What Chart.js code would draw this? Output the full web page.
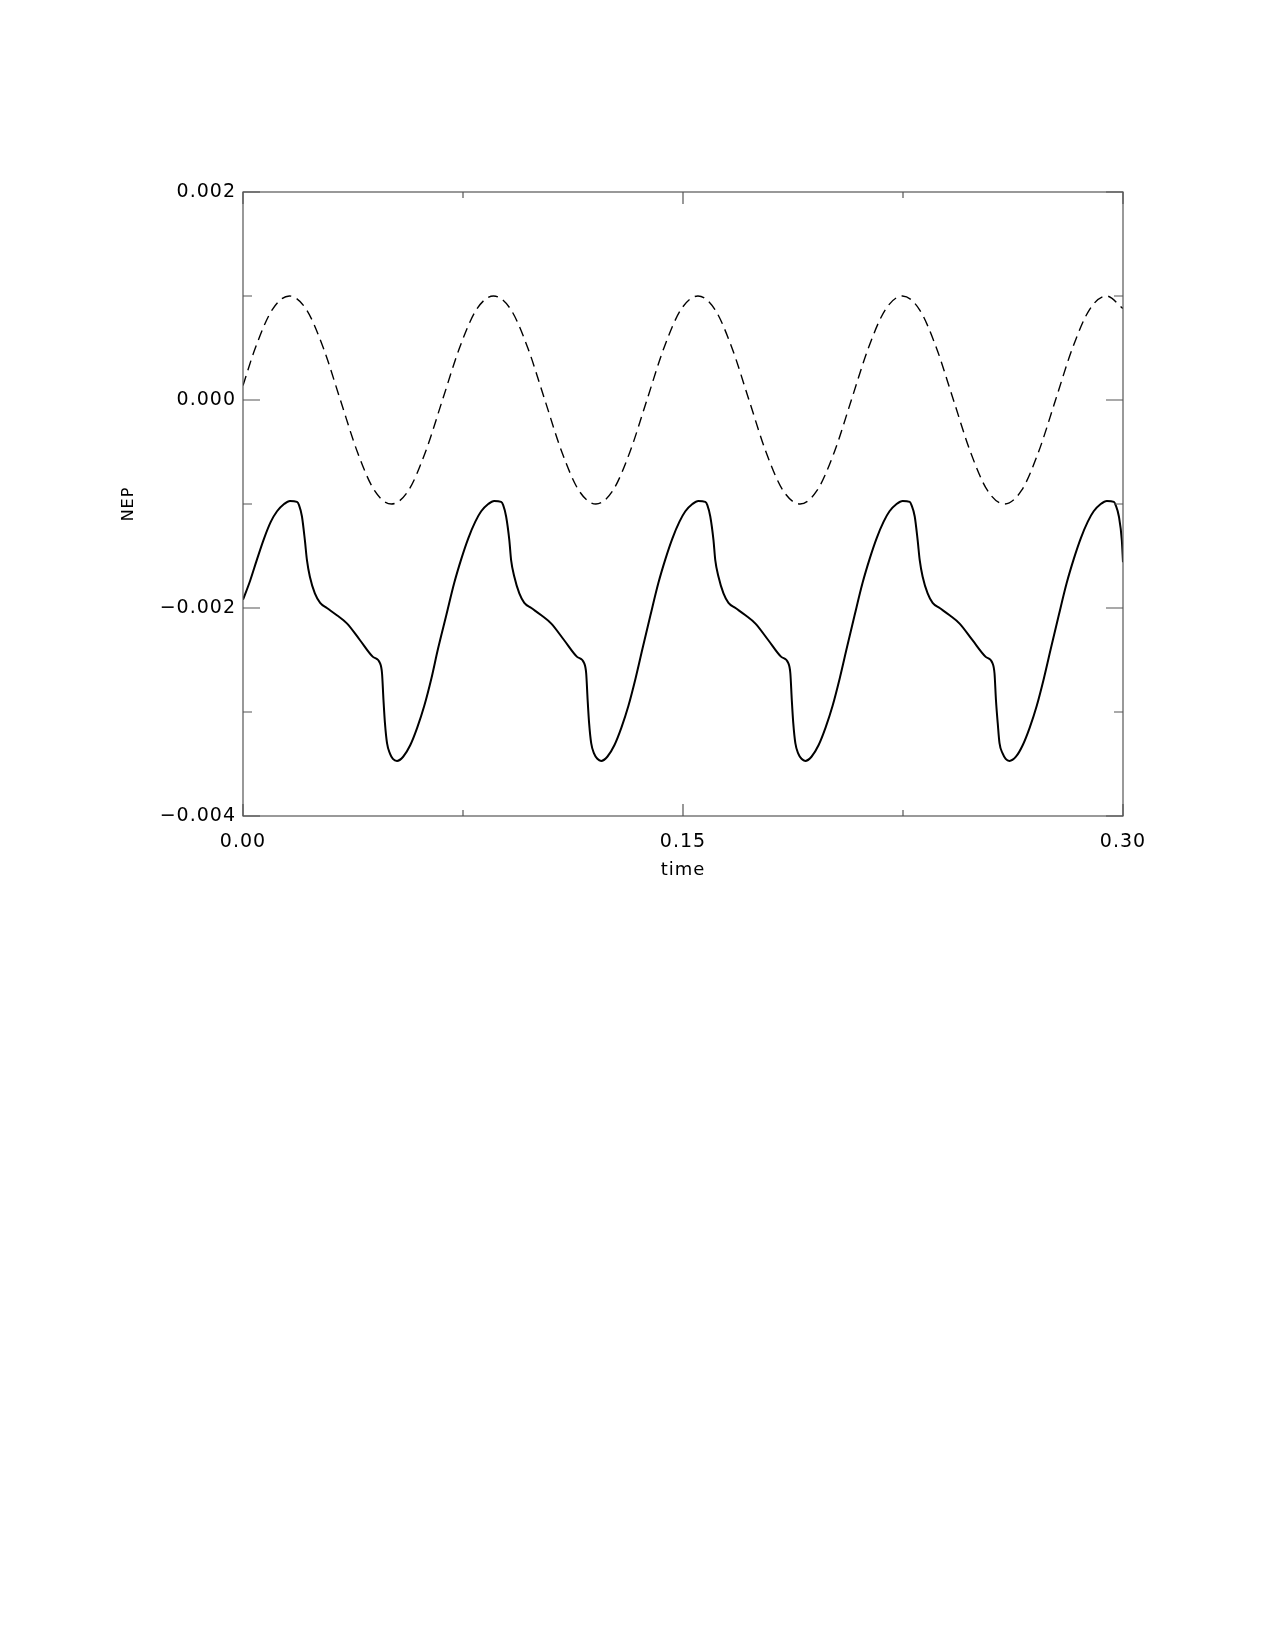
<!DOCTYPE html>
<html>
<head>
<meta charset="utf-8">
<script src="https://cdn.jsdelivr.net/npm/chart.js@4.4.1/dist/chart.umd.min.js"></script>
<style>
  html, body { margin: 0; padding: 0; background: #fff; }
  #nep { display: block; }
</style>
</head>
<body>
<canvas id="nep" width="1275" height="1650"></canvas>
<script>
// datos (tiempo en s, NEP)
const solidTime = [
  0.0000, 0.0024, 0.0048, 0.0072, 0.0095, 0.0116, 0.0140, 0.0160, 0.0184, 0.0191, 0.0201, 0.0211, 0.0218, 0.0228, 0.0245,
  0.0263, 0.0286, 0.0320, 0.0355, 0.0399, 0.0443, 0.0467, 0.0474, 0.0479, 0.0484, 0.0491, 0.0501, 0.0511, 0.0525,
  0.0546, 0.0570, 0.0594, 0.0618, 0.0642, 0.0665, 0.0693, 0.0720, 0.0744, 0.0768, 0.0792, 0.0812, 0.0836, 0.0856, 0.0880,
  0.0887, 0.0897, 0.0908, 0.0914, 0.0925, 0.0942, 0.0959, 0.0983, 0.1017, 0.1051, 0.1095, 0.1139, 0.1163, 0.1170, 0.1175,
  0.1180, 0.1187, 0.1197, 0.1208, 0.1221,
  0.1242, 0.1266, 0.1290, 0.1314, 0.1338, 0.1362, 0.1389, 0.1416, 0.1440, 0.1464, 0.1488, 0.1508, 0.1532, 0.1552, 0.1576,
  0.1583, 0.1593, 0.1604, 0.1610, 0.1621, 0.1638, 0.1655, 0.1679, 0.1713, 0.1747, 0.1791, 0.1835, 0.1859, 0.1866, 0.1871,
  0.1876, 0.1883, 0.1893, 0.1904, 0.1917,
  0.1938, 0.1962, 0.1986, 0.2010, 0.2034, 0.2058, 0.2085, 0.2112, 0.2136, 0.2160, 0.2184, 0.2204, 0.2228, 0.2249, 0.2273,
  0.2279, 0.2290, 0.2300, 0.2307, 0.2317, 0.2334, 0.2351, 0.2375, 0.2409, 0.2443, 0.2487, 0.2532, 0.2555, 0.2562, 0.2567,
  0.2573, 0.2579, 0.2590, 0.2600, 0.2613,
  0.2635, 0.2658, 0.2682, 0.2706, 0.2730, 0.2754, 0.2781, 0.2808, 0.2832, 0.2856, 0.2880, 0.2900, 0.2924, 0.2945, 0.2969,
  0.2975, 0.2986, 0.2996, 0.3000
];
const solidNep = [
  -0.00192, -0.00174, -0.00153, -0.00133, -0.00117, -0.00107, -0.00100, -0.00097, -0.00098, -0.00101, -0.00112, -0.00135, -0.00154, -0.00170, -0.00186,
  -0.00195, -0.00200, -0.00207, -0.00215, -0.00231, -0.00247, -0.00253, -0.00263, -0.00289, -0.00311, -0.00330, -0.00340, -0.00345, -0.00347,
  -0.00343, -0.00332, -0.00315, -0.00294, -0.00268, -0.00239, -0.00207, -0.00176, -0.00153, -0.00133, -0.00117, -0.00107, -0.00100, -0.00097, -0.00098,
  -0.00101, -0.00112, -0.00135, -0.00154, -0.00170, -0.00186, -0.00195, -0.00200, -0.00207, -0.00215, -0.00231, -0.00247, -0.00253, -0.00263, -0.00289,
  -0.00311, -0.00330, -0.00340, -0.00345, -0.00347,
  -0.00343, -0.00332, -0.00315, -0.00294, -0.00268, -0.00239, -0.00207, -0.00176, -0.00153, -0.00133, -0.00117, -0.00107, -0.00100, -0.00097, -0.00098,
  -0.00101, -0.00112, -0.00135, -0.00154, -0.00170, -0.00186, -0.00195, -0.00200, -0.00207, -0.00215, -0.00231, -0.00247, -0.00253, -0.00263, -0.00289,
  -0.00311, -0.00330, -0.00340, -0.00345, -0.00347,
  -0.00343, -0.00332, -0.00315, -0.00294, -0.00268, -0.00239, -0.00207, -0.00176, -0.00153, -0.00133, -0.00117, -0.00107, -0.00100, -0.00097, -0.00098,
  -0.00101, -0.00112, -0.00135, -0.00154, -0.00170, -0.00186, -0.00195, -0.00200, -0.00207, -0.00215, -0.00231, -0.00247, -0.00253, -0.00263, -0.00289,
  -0.00311, -0.00330, -0.00340, -0.00345, -0.00347,
  -0.00343, -0.00332, -0.00315, -0.00294, -0.00268, -0.00239, -0.00207, -0.00176, -0.00153, -0.00133, -0.00117, -0.00107, -0.00100, -0.00097, -0.00098,
  -0.00101, -0.00112, -0.00135, -0.00156
];

const dashTime = [
  0.0000, 0.0042, 0.0100, 0.0158, 0.0216, 0.0274, 0.0332, 0.0390, 0.0448, 0.0506, 0.0564, 0.0622, 0.0680,
  0.0738, 0.0796, 0.0854, 0.0913, 0.0971, 0.1029, 0.1087, 0.1145, 0.1203, 0.1261, 0.1319, 0.1377,
  0.1435, 0.1493, 0.1551, 0.1609, 0.1667, 0.1725, 0.1783, 0.1841, 0.1899, 0.1957, 0.2016, 0.2074,
  0.2132, 0.2190, 0.2248, 0.2306, 0.2364, 0.2422, 0.2480, 0.2538, 0.2596, 0.2654, 0.2712, 0.2770,
  0.2828, 0.2886, 0.2944, 0.3000
];
const dashNep = [
  0.00014, 0.0005, 0.00087, 0.0010, 0.00087, 0.0005, 0, -0.0005, -0.00087, -0.0010, -0.00087, -0.0005, 0,
  0.0005, 0.00087, 0.0010, 0.00087, 0.0005, 0, -0.0005, -0.00087, -0.0010, -0.00087, -0.0005, 0,
  0.0005, 0.00087, 0.0010, 0.00087, 0.0005, 0, -0.0005, -0.00087, -0.0010, -0.00087, -0.0005, 0,
  0.0005, 0.00087, 0.0010, 0.00087, 0.0005, 0, -0.0005, -0.00087, -0.0010, -0.00087, -0.0005, 0,
  0.0005, 0.00087, 0.0010, 0.00088
];

// marcas de los ejes
const xMajor = [0, 0.15, 0.30];
const xMinor = [0.075, 0.225];
const yMajor = [-0.004, -0.002, 0, 0.002];
const yMinor = [-0.003, -0.001, 0.001];

const toPoints = (xs, ys) => xs.map((t, i) => ({ x: t, y: ys[i] }));

// letra un poco mas espaciada, como la fuente de IDL
const spacing = {
  id: 'spacing',
  beforeLayout(chart) { chart.ctx.letterSpacing = '1px'; },
  beforeDraw(chart) { chart.ctx.letterSpacing = '1px'; }
};

// marco y marcas hacia adentro, estilo IDL
const idlFrame = {
  id: 'idlFrame',
  afterDatasetsDraw(chart) {
    const { ctx, chartArea: a, scales: { x, y } } = chart;
    ctx.save();
    ctx.strokeStyle = '#555';
    ctx.lineWidth = 1.2;
    ctx.strokeRect(a.left, a.top, a.right - a.left, a.bottom - a.top);
    ctx.beginPath();
    const xt = (v, len) => {
      const px = x.getPixelForValue(v);
      ctx.moveTo(px, a.bottom); ctx.lineTo(px, a.bottom - len);
      ctx.moveTo(px, a.top); ctx.lineTo(px, a.top + len);
    };
    const yt = (v, len) => {
      const py = y.getPixelForValue(v);
      ctx.moveTo(a.left, py); ctx.lineTo(a.left + len, py);
      ctx.moveTo(a.right, py); ctx.lineTo(a.right - len, py);
    };
    xMajor.forEach(v => xt(v, 12));
    xMinor.forEach(v => xt(v, 6));
    yMajor.forEach(v => yt(v, 17));
    yMinor.forEach(v => yt(v, 9));
    ctx.stroke();
    ctx.restore();
  }
};

const ctx = document.getElementById('nep').getContext('2d');
const nepChart = new Chart(ctx, {
  type: 'line',
  data: {
    datasets: [
      {
        label: 'NEP',
        data: toPoints(solidTime, solidNep),
        borderColor: '#000',
        borderWidth: 2,
        pointRadius: 0,
        fill: false,
        cubicInterpolationMode: 'monotone'
      },
      {
        label: 'NEP (ref)',
        data: toPoints(dashTime, dashNep),
        borderColor: '#000',
        borderWidth: 1.4,
        borderDash: [10, 6],
        pointRadius: 0,
        fill: false,
        cubicInterpolationMode: 'monotone'
      }
    ]
  },
  options: {
    responsive: false,
    animation: false,
    devicePixelRatio: 1,
    layout: { padding: { left: 0, top: 192, right: 152, bottom: 714 } },
    plugins: {
      legend: { display: false },
      tooltip: { enabled: false }
    },
    scales: {
      x: {
        type: 'linear',
        min: 0,
        max: 0.3,
        afterFit: s => { s.height = 120; },
        afterBuildTicks: s => { s.ticks = xMajor.map(v => ({ value: v })); },
        grid: { display: false, drawTicks: false },
        border: { display: false },
        ticks: {
          padding: 15,
          color: '#000',
          font: { family: 'DejaVu Sans', size: 19 },
          maxRotation: 0,
          callback: v => v.toFixed(2)
        },
        title: {
          display: true,
          text: 'time',
          color: '#000',
          font: { family: 'DejaVu Sans', size: 18 },
          padding: { top: 0, bottom: 55 }
        }
      },
      y: {
        type: 'linear',
        min: -0.004,
        max: 0.002,
        afterFit: s => { s.width = 243; },
        afterBuildTicks: s => { s.ticks = yMajor.map(v => ({ value: v })); },
        grid: { display: false, drawTicks: false },
        border: { display: false },
        ticks: {
          padding: 7,
          color: '#000',
          font: { family: 'DejaVu Sans', size: 19 },
          callback: v => (v < 0 ? '\u2212' : '') + Math.abs(v).toFixed(3)
        },
        title: {
          display: true,
          text: 'NEP',
          color: '#000',
          font: { family: 'DejaVu Sans', size: 16 },
          padding: { top: 119, bottom: 0 }
        }
      }
    }
  },
  plugins: [spacing, idlFrame]
});
</script>
</body>
</html>
